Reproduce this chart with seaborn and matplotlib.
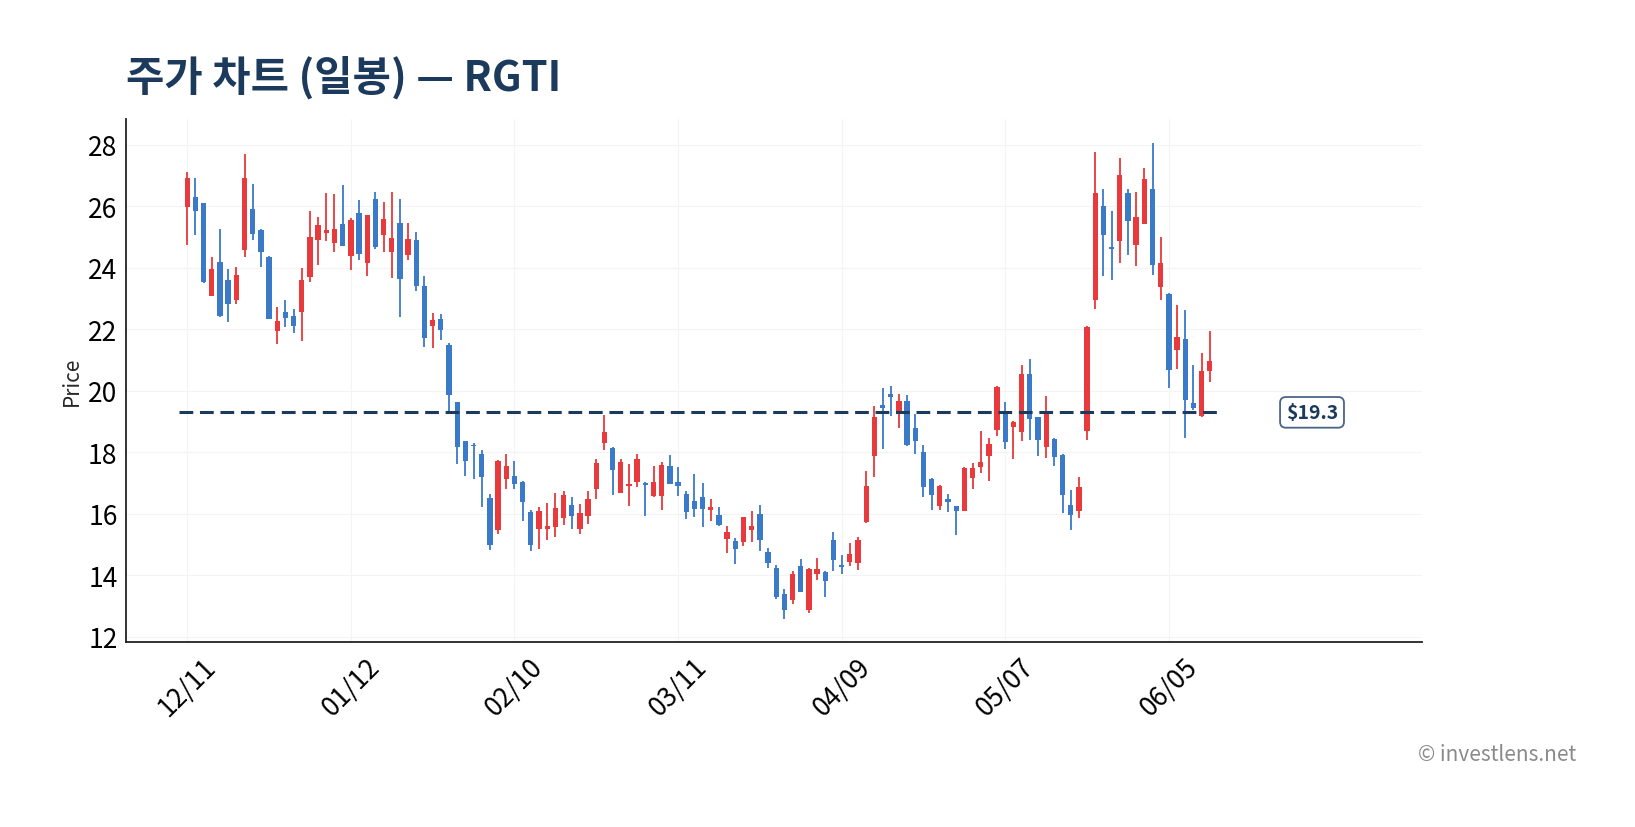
import matplotlib
matplotlib.use("Agg")
import matplotlib.pyplot as plt
import seaborn as sns
import numpy as np
import pandas as pd

# ---- data ----
opens = [25.99, 26.32, 26.10, 23.07, 24.19, 23.61, 22.94, 24.59, 25.93, 25.22,
         24.36, 21.93, 22.56, 22.44, 22.55, 23.70, 24.90, 25.13, 24.82, 25.44,
         24.38, 25.79, 24.16, 26.25, 25.07, 24.52, 25.47, 24.42, 24.92, 23.42,
         22.11, 22.32, 21.48, 19.63, 18.36, 18.24, 17.94, 16.51, 15.46, 17.13,
         17.22, 17.03, 16.06, 15.49, 15.52, 15.56, 15.88, 16.29, 15.49, 15.92,
         16.80, 18.30, 18.13, 16.67, 16.92, 17.04, 17.00, 16.58, 16.57, 17.54,
         17.02, 16.66, 16.43, 16.55, 16.14, 15.96, 15.17, 15.11, 15.07, 15.46,
         15.99, 14.75, 14.23, 13.38, 13.21, 14.29, 12.87, 14.05, 14.10, 15.14,
         14.34, 14.42, 14.41, 15.72, 17.88, 19.55, 19.91, 19.25, 19.68, 18.80,
         18.02, 17.14, 16.25, 16.49, 16.24, 16.10, 17.16, 17.52, 17.88, 18.73,
         19.29, 18.83, 18.67, 20.54, 19.15, 18.17, 18.43, 17.92, 16.29, 16.08,
         18.68, 22.95, 26.02, 24.64, 24.88, 26.45, 24.74, 25.44, 26.58, 23.37,
         23.16, 21.32, 21.70, 19.62, 19.17, 20.64]
highs = [27.11, 26.91, 26.10, 24.36, 25.25, 23.97, 24.03, 27.69, 26.74, 25.25,
         24.38, 22.74, 22.94, 22.66, 24.00, 25.86, 25.66, 26.45, 26.39, 26.71,
         25.62, 26.22, 25.71, 26.48, 26.15, 26.48, 26.24, 25.46, 25.17, 23.75,
         22.54, 22.50, 21.56, 19.63, 18.36, 18.29, 18.06, 16.63, 17.75, 17.96,
         17.73, 17.08, 16.11, 16.22, 16.34, 16.68, 16.74, 16.55, 16.32, 16.74,
         17.79, 19.23, 18.18, 17.79, 17.61, 17.95, 17.05, 17.56, 17.70, 17.92,
         17.51, 16.75, 17.28, 17.00, 16.48, 16.22, 15.59, 15.21, 15.89, 16.09,
         16.28, 14.89, 14.32, 13.57, 14.13, 14.53, 14.25, 14.55, 14.13, 15.40,
         14.67, 15.04, 15.24, 17.40, 19.51, 20.10, 20.17, 19.90, 19.86, 19.25,
         18.25, 17.17, 16.95, 16.65, 16.26, 17.52, 17.65, 18.68, 18.47, 20.15,
         19.64, 19.01, 20.85, 21.05, 19.15, 19.82, 18.47, 17.96, 16.76, 17.20,
         22.10, 27.77, 26.57, 25.85, 27.58, 26.57, 26.48, 27.25, 28.07, 25.01,
         23.18, 22.79, 22.63, 20.84, 21.23, 21.95]
lows = [24.75, 25.08, 23.50, 23.07, 22.39, 22.24, 22.83, 24.36, 24.92, 24.03,
        22.33, 21.52, 22.07, 21.89, 21.61, 23.53, 24.08, 24.86, 24.53, 24.71,
        23.94, 24.27, 23.75, 24.61, 24.53, 23.68, 22.40, 24.25, 23.24, 21.42,
        21.38, 21.64, 19.31, 17.62, 17.23, 17.13, 16.23, 14.83, 15.35, 16.80,
        16.80, 15.76, 14.78, 14.86, 15.14, 15.25, 15.63, 15.50, 15.34, 15.66,
        16.49, 18.09, 16.62, 16.67, 16.26, 16.88, 15.94, 16.55, 16.13, 16.98,
        16.58, 15.83, 15.89, 15.57, 15.77, 15.60, 14.72, 14.36, 14.95, 15.08,
        14.79, 14.24, 13.22, 12.57, 13.07, 13.47, 12.78, 13.85, 13.28, 14.14,
        14.04, 14.29, 14.17, 15.70, 17.21, 18.12, 19.17, 18.80, 18.21, 17.93,
        16.54, 16.11, 16.14, 16.07, 15.32, 16.08, 16.82, 17.34, 17.08, 18.52,
        18.10, 17.77, 18.36, 18.40, 17.88, 17.82, 17.57, 16.03, 15.48, 15.86,
        18.41, 22.66, 23.74, 23.61, 24.16, 24.42, 24.06, 25.41, 23.77, 22.95,
        20.09, 20.71, 18.47, 19.37, 19.15, 20.29]
closes = [26.91, 25.86, 23.53, 23.97, 22.45, 22.82, 23.77, 26.91, 25.10, 24.51,
          22.35, 22.26, 22.38, 22.12, 23.61, 25.01, 25.40, 25.22, 25.27, 24.71,
          25.55, 24.45, 25.71, 24.68, 25.60, 24.98, 23.64, 24.95, 23.41, 21.73,
          22.29, 21.98, 19.85, 18.16, 17.71, 18.19, 17.19, 14.97, 17.71, 17.57,
          16.96, 16.40, 14.97, 16.09, 15.61, 16.20, 16.62, 15.92, 16.02, 16.49,
          17.64, 18.65, 17.42, 17.70, 16.98, 17.77, 16.95, 17.02, 17.60, 16.98,
          16.92, 16.05, 16.15, 16.15, 16.22, 15.65, 15.40, 14.87, 15.89, 15.60,
          15.14, 14.39, 13.30, 12.88, 14.03, 13.47, 14.21, 14.20, 13.83, 14.51,
          14.28, 14.68, 15.15, 16.89, 19.14, 19.45, 19.80, 19.66, 18.24, 18.37,
          16.87, 16.61, 16.92, 16.38, 16.09, 17.48, 17.50, 17.70, 18.28, 20.12,
          18.34, 18.98, 20.54, 19.10, 18.39, 19.28, 17.84, 16.60, 15.95, 16.87,
          22.06, 26.42, 25.06, 24.62, 27.03, 25.52, 25.64, 26.90, 24.08, 24.17,
          20.67, 21.76, 19.69, 19.43, 20.66, 20.98]
tick_labels = ["12/11", "01/12", "02/10", "03/11", "04/09", "05/07", "06/05"]
ref_price = 19.3
ticker = "RGTI"

# ---- style ----
sns.set_theme(style="white")
plt.rcParams['font.family'] = ['Noto Sans CJK KR', 'DejaVu Sans']

UP = "#E8393C"
DOWN = "#3B79C9"
NAVY = "#1B3A5C"

df = pd.DataFrame({"open": opens, "high": highs, "low": lows, "close": closes})
df["idx"] = np.arange(len(df))
df["up"] = df["close"] >= df["open"]
df["color"] = np.where(df["up"], UP, DOWN)
df["body_lo"] = df[["open", "close"]].min(axis=1)
df["body_h"] = (df["open"] - df["close"]).abs().clip(lower=0.05)

fig = plt.figure(figsize=(16.35, 8.28), dpi=100)
ax = fig.add_axes([0.077, 0.2234, 0.793, 0.632])

ax.vlines(df["idx"], df["low"], df["high"], colors=df["color"], linewidth=1.3, zorder=2)
ax.bar(df["idx"], df["body_h"], bottom=df["body_lo"], width=0.65,
       color=df["color"], linewidth=0, zorder=3)

n = len(df)
ax.plot([-1, n], [ref_price, ref_price], linestyle=(0, (4.5, 2.2)), color=NAVY,
        linewidth=2.2, zorder=4)
ax.text(137.5, ref_price, f"${ref_price}", ha="center", va="center", fontsize=14,
        fontweight="bold", color=NAVY,
        bbox=dict(boxstyle="round,pad=0.3,rounding_size=0.3", fc="white", ec="#4A6488", lw=1.3))

ax.set_xlim(-7.5, 151)
ax.set_ylim(11.83, 28.85)
ax.set_xticks(np.arange(len(tick_labels)) * 20)
ax.set_xticklabels(tick_labels, rotation=45, ha="center")
ax.set_yticks(np.arange(12, 29, 2))
ax.tick_params(axis="both", labelsize=19, colors="black", length=0)
ax.tick_params(axis="x", pad=8)
ax.tick_params(axis="y", pad=6)
ax.set_ylabel("Price", fontsize=15)
ax.grid(True, color="#F4F4F4", linewidth=0.8)
ax.set_axisbelow(True)
for s in ["top", "right"]:
    ax.spines[s].set_visible(False)
for s in ["left", "bottom"]:
    ax.spines[s].set_color("#222222")
    ax.spines[s].set_linewidth(1.3)

fig.text(0.077, 0.906, f"주가 차트 (일봉) — {ticker}", fontsize=30, fontweight="bold",
         color=NAVY, ha="left", va="center")
fig.text(0.964, 0.088, "© investlens.net", fontsize=15, color="#8A8A8A",
         ha="right", va="center")

fig.savefig("out.png", dpi=100)
